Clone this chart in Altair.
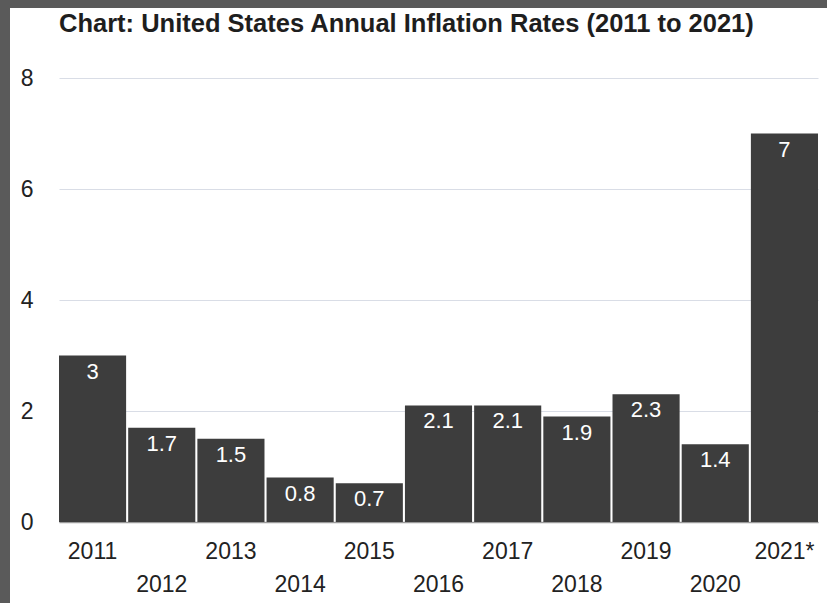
import altair as alt
import pandas as pd

years = ["2011", "2012", "2013", "2014", "2015", "2016", "2017", "2018", "2019", "2020", "2021*"]
rates = [3, 1.7, 1.5, 0.8, 0.7, 2.1, 2.1, 1.9, 2.3, 1.4, 7]
labels = ["3", "1.7", "1.5", "0.8", "0.7", "2.1", "2.1", "1.9", "2.3", "1.4", "7"]

df = pd.DataFrame({"year": years, "rate": rates, "label": labels})

W, H = 759, 444
PL, PT, PR, PB = 59, 78, 9, 81
FONT = "Liberation Sans"

x_enc = alt.X(
    "year:N",
    sort=years,
    title=None,
    scale=alt.Scale(paddingInner=0.03, paddingOuter=0),
    axis=alt.Axis(
        labelAngle=0,
        labelFont=FONT,
        labelFontSize=23,
        labelColor="#222222",
        labelPadding=18,
        labelLineHeight=33,
        labelBaseline="top",
        labelExpr="parseInt(datum.value) % 2 == 1 ? datum.label : ['', datum.label]",
        ticks=False,
        domainColor="#9a9a9a",
        domainWidth=1.5,
        grid=False,
    ),
)

y_enc = alt.Y(
    "rate:Q",
    title=None,
    scale=alt.Scale(domain=[0, 8], nice=False),
    axis=alt.Axis(
        values=[0, 2, 4, 6, 8],
        format="d",
        labelFont=FONT,
        labelFontSize=23,
        labelColor="#222222",
        labelPadding=26,
        ticks=False,
        domain=False,
        grid=True,
        gridColor="#d9dde6",
        gridWidth=1,
    ),
)

bars = alt.Chart(df).mark_bar(color="#3d3d3d").encode(x=x_enc, y=y_enc)

text = alt.Chart(df).mark_text(
    color="white", font=FONT, fontSize=22, baseline="top", dy=6
).encode(x=alt.X("year:N", sort=years), y="rate:Q", text="label:N")

frame_src = pd.DataFrame({"k": [0]})
top_band = alt.Chart(frame_src).mark_rect(color="#5a5a5a").encode(
    x=alt.value(-PL), x2=alt.value(W + PR), y=alt.value(-PT), y2=alt.value(-PT + 8)
)
left_band = alt.Chart(frame_src).mark_rect(color="#5a5a5a").encode(
    x=alt.value(-PL), x2=alt.value(-PL + 10), y=alt.value(-PT), y2=alt.value(H + PB)
)

chart = alt.layer(bars, text, top_band, left_band).properties(
    width=W,
    height=H,
    autosize=alt.AutoSizeParams(type="none"),
    padding={"left": PL, "top": PT, "right": PR, "bottom": PB},
    background="white",
    title=alt.TitleParams(
        "Chart: United States Annual Inflation Rates (2011 to 2021)",
        font=FONT,
        fontSize=25.5,
        fontWeight="bold",
        color="#1e1e1e",
        anchor="start",
        offset=-37,
        dx=59,
    ),
).configure_view(stroke=None)

chart.save("out.html", embed_options={"renderer": "svg", "actions": False})
